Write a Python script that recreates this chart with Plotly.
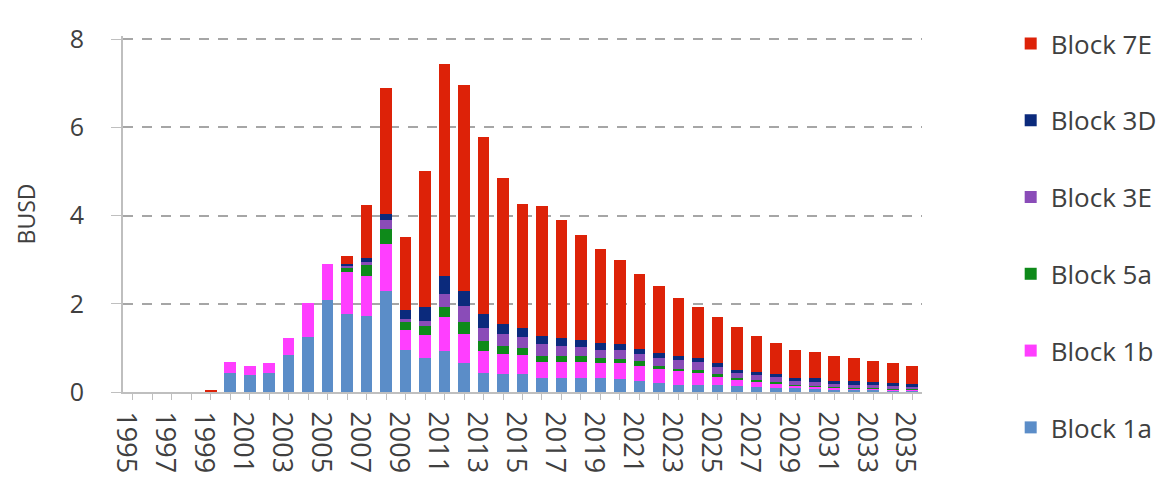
import plotly.graph_objects as go

years = list(range(1995, 2036))

block_1a = [0, 0, 0, 0, 0, 0.42, 0.39, 0.42, 0.83, 1.24, 2.09, 1.77, 1.73, 2.29, 0.95, 0.77, 0.92,
            0.66, 0.43, 0.40, 0.40, 0.32, 0.31, 0.31, 0.31, 0.30, 0.25, 0.21, 0.17, 0.16, 0.15,
            0.13, 0.12, 0.10, 0.08, 0.07, 0.06, 0.05, 0.05, 0.04, 0.04]
block_1b = [0, 0, 0, 0, 0.02, 0.25, 0.20, 0.23, 0.39, 0.78, 0.82, 0.96, 0.89, 1.07, 0.45, 0.53, 0.77,
            0.66, 0.51, 0.46, 0.43, 0.37, 0.38, 0.38, 0.35, 0.35, 0.35, 0.32, 0.30, 0.28, 0.20,
            0.15, 0.12, 0.09, 0.06, 0.05, 0.04, 0.03, 0.03, 0.02, 0.02]
block_5a = [0, 0, 0, 0, 0, 0, 0, 0, 0, 0, 0, 0.10, 0.26, 0.33, 0.18, 0.19, 0.24,
            0.26, 0.22, 0.19, 0.16, 0.13, 0.13, 0.12, 0.10, 0.10, 0.10, 0.07, 0.06, 0.05, 0.05,
            0.04, 0.03, 0.03, 0.02, 0.02, 0.02, 0.02, 0.01, 0.01, 0.01]
block_3e = [0, 0, 0, 0, 0, 0, 0, 0, 0, 0, 0, 0.03, 0.06, 0.20, 0.07, 0.13, 0.30,
            0.37, 0.30, 0.26, 0.26, 0.26, 0.22, 0.20, 0.20, 0.20, 0.16, 0.17, 0.19, 0.18, 0.17,
            0.12, 0.12, 0.11, 0.10, 0.09, 0.07, 0.07, 0.06, 0.06, 0.05]
block_3d = [0, 0, 0, 0, 0, 0, 0, 0, 0, 0, 0, 0.05, 0.10, 0.14, 0.22, 0.30, 0.41,
            0.33, 0.30, 0.24, 0.19, 0.20, 0.19, 0.18, 0.15, 0.14, 0.12, 0.11, 0.10, 0.10, 0.09,
            0.07, 0.07, 0.07, 0.06, 0.08, 0.07, 0.09, 0.08, 0.08, 0.07]
block_7e = [0, 0, 0, 0, 0.02, 0, 0, 0, 0, 0, 0, 0.17, 1.19, 2.87, 1.64, 3.08, 4.79,
            4.67, 4.01, 3.31, 2.82, 2.93, 2.66, 2.38, 2.14, 1.90, 1.70, 1.53, 1.32, 1.15, 1.03,
            0.96, 0.82, 0.70, 0.63, 0.59, 0.56, 0.51, 0.48, 0.45, 0.41]

series = [
    ("Block 1a", block_1a, "#5B8DC8"),
    ("Block 1b", block_1b, "#FF3EFF"),
    ("Block 5a", block_5a, "#0E8A1A"),
    ("Block 3E", block_3e, "#8A4CB8"),
    ("Block 3D", block_3d, "#0B2A7C"),
    ("Block 7E", block_7e, "#DD2208"),
]

FONT = "Open Sans"
TXT = "#404040"

fig = go.Figure()
n = len(series)
for i, (name, vals, col) in enumerate(series):
    fig.add_trace(go.Bar(x=years, y=vals, name=name, legendgroup=name,
                         legendrank=n - i,
                         marker=dict(color=col, line=dict(width=0))))

fig.update_layout(
    width=1169, height=482,
    barmode="stack", bargap=0.4,
    paper_bgcolor="white", plot_bgcolor="white",
    margin=dict(l=115, r=255, t=21, b=98),
    font=dict(family=FONT, size=22, color=TXT),
    legend=dict(traceorder="grouped", tracegroupgap=40, maxheight=480,
                x=1.111, xanchor="left", y=1.045, yanchor="top",
                font=dict(size=26, color=TXT), itemwidth=30),
    xaxis=dict(range=[1994.5, 2035.5], tickmode="linear", tick0=1995, dtick=2,
               tickangle=90, showgrid=False, showline=True, linecolor="#bfbfbf", linewidth=2,
               ticks="outside", ticklen=6, tickcolor="#bfbfbf",
               minor=dict(tickmode="linear", tick0=1995, dtick=1, ticks="outside",
                          ticklen=6, tickcolor="#bfbfbf"),
               tickfont=dict(size=27, color=TXT), ticklabelstandoff=6, ticklabelshift=-7,
               zeroline=False),
    yaxis=dict(range=[0, 8.07], tickmode="linear", tick0=0, dtick=2,
               showgrid=True, gridcolor="#a6a6a6", gridwidth=2, griddash="10px,9px",
               showline=True, linecolor="#bfbfbf", linewidth=2,
               ticks="outside", ticklen=10, tickcolor="#bfbfbf",
               tickfont=dict(size=25, color=TXT), ticklabelstandoff=22,
               title=dict(text="BUSD", font=dict(size=23, color=TXT), standoff=28),
               zeroline=False),
)

fig.write_html("out.html")
